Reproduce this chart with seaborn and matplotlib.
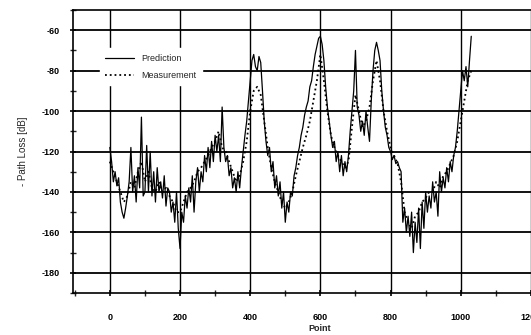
import matplotlib
matplotlib.use("Agg")
import matplotlib.pyplot as plt
import seaborn as sns
import numpy as np
import pandas as pd
from matplotlib.ticker import MultipleLocator

pred_points = list(range(0, 1031, 5))
pred_loss = [
    -118, -125, -135, -130, -137, -133, -145, -150, -153, -148, -142, -135, -118, -140, -132, -145, -128, -138, -103, -142, -140,
    -117, -140, -120, -142, -130, -145, -128, -140, -135, -143, -132, -147, -138, -140, -150, -145, -155, -140, -158, -168,
    -150, -155, -142, -148, -138, -145, -132, -150, -135, -128, -140, -130, -135, -122, -130, -118, -128, -115, -125, -112,
    -120, -112, -125, -98, -118, -125, -122, -132, -128, -138, -133, -140, -130, -138, -128, -120, -112, -105, -95, -85,
    -75, -72, -78, -80, -73, -76, -90, -105, -115, -122, -118, -130, -125, -138, -132, -142, -135, -148, -140, -155,
    -145, -150, -140, -142, -132, -128, -122, -118, -112, -108, -102, -98, -95, -88, -85, -78, -72, -68, -64, -63,
    -67, -75, -88, -98, -105, -112, -118, -115, -125, -120, -130, -122, -132, -125, -130, -122, -110, -100, -90, -70,
    -98, -102, -110, -105, -112, -100, -108, -115, -95, -80, -70, -66, -70, -75, -90, -100, -108, -112, -118, -120,
    -124, -122, -126, -125, -128, -130, -155, -148, -160, -152, -162, -150, -170, -155, -165, -148, -168, -145, -158, -140,
    -150, -142, -148, -135, -145, -140, -152, -130, -140, -133, -138, -128, -135, -125, -130, -122, -118, -110, -100, -90,
    -80, -85, -78, -88, -75, -63,
]

meas_points = list(range(0, 1031, 10))
meas_loss = [
    -125, -130, -135, -140, -145, -142, -135, -138, -130, -125,
    -135, -130, -138, -140, -135, -140, -138, -142, -145, -150,
    -150, -145, -140, -138, -135, -130, -128, -125, -122, -118,
    -115, -110, -118, -120, -125, -130, -135, -132, -125, -115,
    -100, -90, -88, -92, -105, -118, -128, -135, -140, -145,
    -148, -145, -140, -132, -125, -118, -112, -105, -95, -85,
    -72, -85, -100, -112, -118, -122, -125, -128, -125, -108,
    -92, -100, -108, -105, -98, -85, -75, -85, -100, -110,
    -118, -122, -126, -135, -150, -155, -158, -152, -150, -145,
    -143, -140, -140, -135, -138, -132, -130, -126, -122, -115,
    -105, -95, -85, -80,
]

pred = pd.DataFrame({"Point": pred_points, "Loss": pred_loss})
meas = pd.DataFrame({"Point": meas_points, "Loss": meas_loss})

sns.set_style("white")
plt.rcParams["font.family"] = ["Liberation Sans", "DejaVu Sans"]
plt.rcParams["axes.unicode_minus"] = False

fig = plt.figure(figsize=(5.31, 3.35), dpi=100)
# axes run a little past the right edge, like the cropped scan
ax = fig.add_axes([73 / 531, 42 / 335, 493 / 531, 283 / 335])

sns.lineplot(data=pred, x="Point", y="Loss", ax=ax, color="black", lw=0.9,
             label="Prediction", zorder=3)
sns.lineplot(data=meas, x="Point", y="Loss", ax=ax, color="black", lw=1.3,
             linestyle=":", label="Measurement", zorder=3)

ax.set_xlim(-105, 1300)
ax.set_ylim(-190, -50)
ax.xaxis.set_major_locator(MultipleLocator(200))
ax.xaxis.set_minor_locator(MultipleLocator(100))
ax.yaxis.set_major_locator(MultipleLocator(20))
ax.yaxis.set_minor_locator(MultipleLocator(10))

ax.grid(True, which="major", axis="y", color="black", lw=1.3)
ax.grid(True, which="major", axis="x", color="black", lw=1.0)
ax.set_axisbelow(True)

for s in ax.spines.values():
    s.set_color("black")
    s.set_linewidth(1.2)
ax.spines["right"].set_visible(False)

ax.tick_params(axis="both", which="major", direction="inout", length=5, width=1.2,
               labelsize=6.5, colors="black")
ax.tick_params(axis="both", which="minor", direction="inout", length=4, width=1.0)
ax.tick_params(axis="x", which="both", pad=12)
ax.tick_params(axis="y", which="both", pad=7)
ax.tick_params(left=True, bottom=True, which="both")
for t in ax.get_xticklabels() + ax.get_yticklabels():
    t.set_fontweight("bold")

ax.set_xlabel("Point", fontsize=6.5, fontweight="bold", labelpad=1.5)
ax.set_ylabel("- Path Loss [dB]", fontsize=7, labelpad=10)

leg = ax.legend(loc="upper left", bbox_to_anchor=(0.045, 0.88), fontsize=6.5,
                frameon=True, fancybox=False, handlelength=3.2, labelspacing=0.9,
                borderpad=0.6)
leg.get_frame().set_facecolor("white")
leg.get_frame().set_edgecolor("white")
leg.get_frame().set_alpha(1)
leg.set_zorder(5)

fig.savefig("out.png", dpi=100)
